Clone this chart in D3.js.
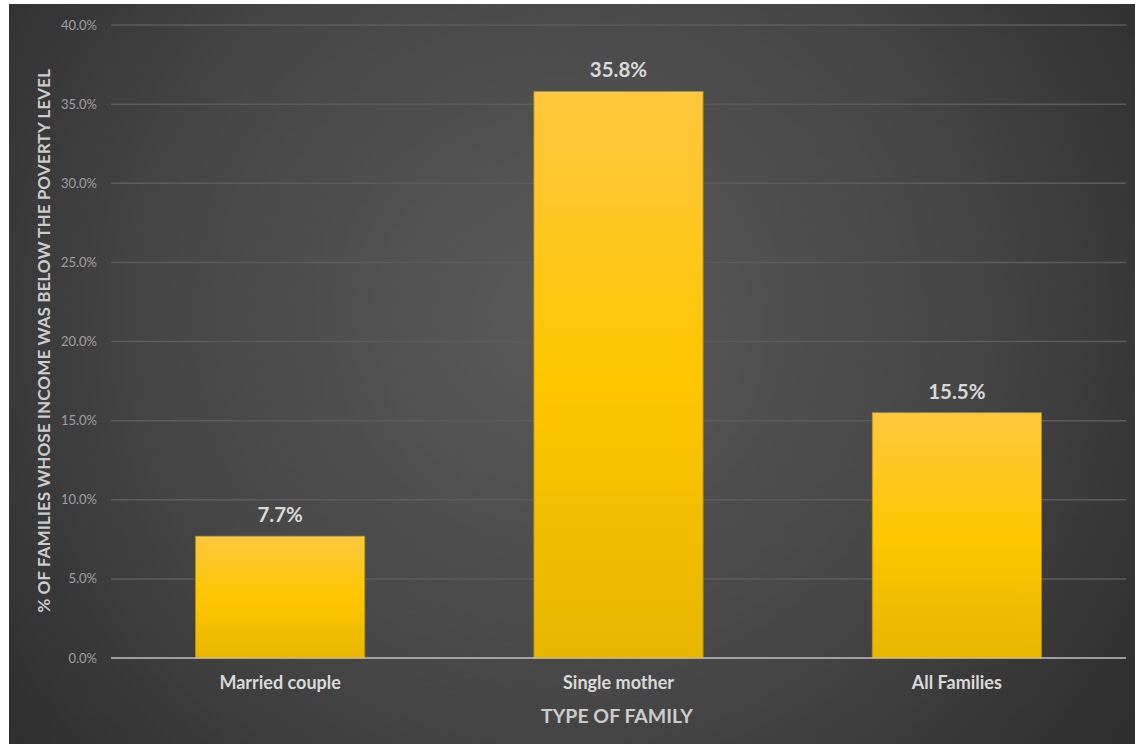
<!DOCTYPE html>
<html>
<head>
<meta charset="utf-8">
<script src="https://cdn.jsdelivr.net/npm/d3@7"></script>
<style>
html,body{margin:0;padding:0;background:#fff;}
svg{display:block;}
</style>
</head>
<body>
<svg id="chart" width="1135" height="744"></svg>
<script>
const categories = ["Married couple", "Single mother", "All Families"];
const values = [7.7, 35.8, 15.5];
const valueLabels = ["7.7%", "35.8%", "15.5%"];
const yTicks = [0, 5, 10, 15, 20, 25, 30, 35, 40];
const yTitle = "% OF FAMILIES WHOSE INCOME WAS BELOW THE POVERTY LEVEL";
const xTitle = "TYPE OF FAMILY";

(function(){
const svg = d3.select("#chart");
const W = 1135, H = 744;
const defs = svg.append("defs");

const bg = defs.append("radialGradient").attr("id","bg")
  .attr("gradientUnits","userSpaceOnUse")
  .attr("cx",560).attr("cy",320).attr("r",720);
bg.append("stop").attr("offset","0%").attr("stop-color","#5a5a5a");
bg.append("stop").attr("offset","55%").attr("stop-color","#464646");
bg.append("stop").attr("offset","100%").attr("stop-color","#2c2c2c");

const bar = defs.append("linearGradient").attr("id","bar")
  .attr("x1",0).attr("y1",0).attr("x2",0).attr("y2",1);
bar.append("stop").attr("offset","0%").attr("stop-color","#ffc73f");
bar.append("stop").attr("offset","50%").attr("stop-color","#ffc600");
bar.append("stop").attr("offset","100%").attr("stop-color","#e8b600");

svg.append("rect").attr("x",9).attr("y",4).attr("width",W-9).attr("height",H-4).attr("fill","url(#bg)");

const pL = 111, pR = 1126, pT = 25, pB = 658;
const x = d3.scaleBand().domain(categories).range([pL, pR]).paddingInner(0.5).paddingOuter(0.25);
const y = d3.scaleLinear().domain([0, 40]).range([pB, pT]);

svg.append("g").selectAll("line").data(yTicks.filter(d => d > 0)).join("line")
  .attr("x1", pL).attr("x2", pR)
  .attr("y1", d => y(d)).attr("y2", d => y(d))
  .attr("stroke", "#5c5c5c").attr("stroke-width", 1.5);

svg.append("g").selectAll("text").data(yTicks).join("text")
  .attr("x", 97).attr("y", d => y(d)).attr("dy", "0.35em")
  .attr("text-anchor", "end")
  .attr("font-family", "Lato, sans-serif").attr("font-size", 13)
  .attr("fill", "#a0a0a0")
  .text(d => d.toFixed(1) + "%");

svg.append("g").selectAll("rect").data(values).join("rect")
  .attr("x", (d,i) => x(categories[i]))
  .attr("width", x.bandwidth())
  .attr("y", d => y(d))
  .attr("height", d => y(0) - y(d))
  .attr("fill", "url(#bar)")
  .attr("stroke", "#b89200").attr("stroke-width", 0.8);

svg.append("line").attr("x1", pL).attr("x2", pR)
  .attr("y1", y(0)).attr("y2", y(0))
  .attr("stroke", "#c0c0c0").attr("stroke-width", 1.5);

svg.append("g").selectAll("text").data(values).join("text")
  .attr("x", (d,i) => x(categories[i]) + x.bandwidth()/2)
  .attr("y", d => y(d) - 14)
  .attr("text-anchor", "middle")
  .attr("font-family", "Lato, sans-serif").attr("font-weight", "bold").attr("font-size", 20.5)
  .attr("fill", "#d9d9d9")
  .text((d,i) => valueLabels[i]);

svg.append("g").selectAll("text").data(categories).join("text")
  .attr("x", d => x(d) + x.bandwidth()/2)
  .attr("y", 689)
  .attr("text-anchor", "middle")
  .attr("font-family", "Lato, sans-serif").attr("font-weight", "bold").attr("font-size", 18)
  .attr("fill", "#d9d9d9")
  .text(d => d);

svg.append("text").attr("x", 617).attr("y", 723)
  .attr("text-anchor", "middle")
  .attr("font-family", "Lato, sans-serif").attr("font-weight", "bold").attr("font-size", 19.5)
  .attr("fill", "#cccccc")
  .text(xTitle);

svg.append("text")
  .attr("transform", "translate(50,341) rotate(-90)")
  .attr("text-anchor", "middle")
  .attr("font-family", "Lato, sans-serif").attr("font-weight", "bold").attr("font-size", 17.2)
  .attr("fill", "#cccccc")
  .text(yTitle);
})();
</script>
</body>
</html>
